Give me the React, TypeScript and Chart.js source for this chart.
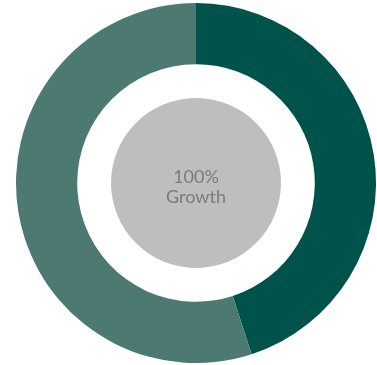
import React, { useEffect, useRef } from "react";
import { Chart, registerables } from "chart.js";

Chart.register(...registerables);

const categories = ["Segment A", "Segment B"];
const values = [45, 55];
const colors = ["#00534A", "#4C7A73"];
const centerLines = ["100%", "Growth"];

const centerCircle = {
  id: "centerCircle",
  beforeDatasetsDraw(chart: any) {
    const meta = chart.getDatasetMeta(0);
    const arc = meta.data[0];
    if (!arc) return;
    const { x, y, outerRadius } = arc;
    const ctx = chart.ctx;
    ctx.save();
    ctx.beginPath();
    ctx.arc(x, y, outerRadius * (85 / 180), 0, Math.PI * 2);
    ctx.fillStyle = "#BDBEC0";
    ctx.fill();
    ctx.restore();
  },
};

export default function App() {
  const ref = useRef<HTMLCanvasElement>(null);
  useEffect(() => {
    if (!ref.current) return;
    const chart = new Chart(ref.current, {
      type: "doughnut",
      data: {
        labels: categories,
        datasets: [
          {
            data: values,
            backgroundColor: colors,
            borderWidth: 0,
          },
        ],
      },
      options: {
        animation: false,
        responsive: false,
        events: [],
        cutout: "66%",
        layout: { padding: { left: 16, right: 1, top: 3, bottom: 2 } },
        plugins: {
          legend: { display: false },
          tooltip: { enabled: false },
        },
      },
      plugins: [centerCircle],
    });
    return () => chart.destroy();
  }, []);
  return (
    <div
      style={{
        position: "fixed",
        left: 0,
        top: 0,
        width: 377,
        height: 365,
        background: "#ffffff",
      }}
    >
      <canvas ref={ref} width={377} height={365} style={{ display: "block" }} />
      <div
        style={{
          position: "absolute",
          left: 96,
          top: 166,
          width: 200,
          textAlign: "center",
          fontFamily: "Lato, 'Open Sans', sans-serif",
          fontSize: 18,
          lineHeight: "20px",
          color: "#7A7B7D",
          fontWeight: 400,
        }}
      >
        {centerLines.map((t) => (
          <div key={t}>{t}</div>
        ))}
      </div>
    </div>
  );
}
